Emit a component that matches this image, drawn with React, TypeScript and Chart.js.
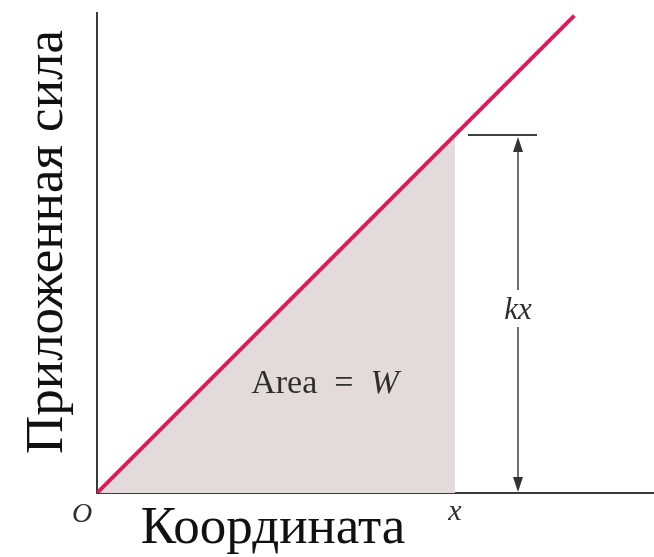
import React, { useEffect, useRef } from "react";
import { Chart, registerables } from "chart.js";

Chart.register(...registerables);

// Spring constant and displacement shown on the diagram
const K = [1];
const X_POINT = [6];
// Force line F = kx, drawn from the origin to its end point
const LINE_X = [0, 8];
// Shaded work triangle spans 0..x
const AREA_X = [0, X_POINT[0]];
// Axis extents
const X_MAX = [9.335];
const Y_MAX = [8.045];

const AXIS_COLOR = "#3a3a3a";
const LINE_COLOR = "#e01b5d";
const FILL_COLOR = "#e3dadb";
const TEXT_COLOR = "#2e2e2e";
const SERIF = '"Liberation Serif", "DejaVu Serif", serif';

const annotations = {
  id: "annotations",
  afterDraw(chart: any) {
    const { ctx, scales } = chart;
    const xs = scales.x;
    const ys = scales.y;
    const x0 = xs.getPixelForValue(0);
    const y0 = ys.getPixelForValue(0);
    const xp = xs.getPixelForValue(X_POINT[0]);
    const yp = ys.getPixelForValue(K[0] * X_POINT[0]);

    ctx.save();
    ctx.fillStyle = TEXT_COLOR;
    ctx.strokeStyle = "#404040";

    // dimension line for kx
    const ax = xp + 63;
    ctx.lineWidth = 2;
    ctx.beginPath();
    ctx.moveTo(xp + 13, yp);
    ctx.lineTo(xp + 82, yp);
    ctx.stroke();
    ctx.lineWidth = 1.5;
    ctx.beginPath();
    ctx.moveTo(ax, yp + 14);
    ctx.lineTo(ax, 290);
    ctx.moveTo(ax, 327);
    ctx.lineTo(ax, y0 - 14);
    ctx.stroke();
    // arrow heads
    ctx.fillStyle = "#333";
    ctx.beginPath();
    ctx.moveTo(ax, yp + 2);
    ctx.lineTo(ax - 5, yp + 17);
    ctx.lineTo(ax + 5, yp + 17);
    ctx.closePath();
    ctx.fill();
    ctx.beginPath();
    ctx.moveTo(ax, y0 - 1);
    ctx.lineTo(ax - 5, y0 - 16);
    ctx.lineTo(ax + 5, y0 - 16);
    ctx.closePath();
    ctx.fill();

    ctx.fillStyle = TEXT_COLOR;
    // kx label
    ctx.font = `italic 31px ${SERIF}`;
    ctx.textAlign = "center";
    ctx.textBaseline = "alphabetic";
    ctx.fillText("kx", ax, 319);

    // Area = W
    ctx.font = `34px ${SERIF}`;
    ctx.textAlign = "left";
    const part = "Area  =  ";
    const w1 = ctx.measureText(part).width;
    ctx.font = `italic 34px ${SERIF}`;
    const w2 = ctx.measureText("W").width;
    const startX = 325 - (w1 + w2) / 2;
    ctx.font = `34px ${SERIF}`;
    ctx.fillText(part, startX, 393);
    ctx.font = `italic 34px ${SERIF}`;
    ctx.fillText("W", startX + w1, 393);

    // origin and x markers
    ctx.font = `italic 28px ${SERIF}`;
    ctx.textAlign = "center";
    ctx.fillText("O", x0 - 15, 522);
    ctx.font = `italic 30px ${SERIF}`;
    ctx.fillText("x", xp, 520);

    // axis titles
    ctx.font = `53px ${SERIF}`;
    ctx.fillStyle = "#111";
    ctx.fillText("Координата", 273, 543);
    ctx.translate(62, 242);
    ctx.rotate(-Math.PI / 2);
    ctx.fillText("Приложенная сила", 0, 0);
    ctx.restore();
  },
};

export default function App() {
  const ref = useRef<HTMLCanvasElement>(null);

  useEffect(() => {
    if (!ref.current) return;
    const chart = new Chart(ref.current, {
      type: "line",
      data: {
        datasets: [
          {
            label: "F = kx",
            data: LINE_X.map((v) => ({ x: v, y: K[0] * v })),
            borderColor: LINE_COLOR,
            borderWidth: 4,
            pointRadius: 0,
            fill: false,
            order: 0,
          },
          {
            label: "W",
            data: AREA_X.map((v) => ({ x: v, y: K[0] * v })),
            borderWidth: 0,
            borderColor: "rgba(0,0,0,0)",
            backgroundColor: FILL_COLOR,
            pointRadius: 0,
            fill: "origin",
            order: 1,
          },
        ],
      },
      options: {
        responsive: false,
        animation: false,
        events: [],
        layout: { padding: { left: 97, top: 13, right: 0, bottom: 64 } },
        plugins: {
          legend: { display: false },
          tooltip: { enabled: false },
        },
        scales: {
          x: {
            type: "linear",
            min: 0,
            max: X_MAX[0],
            z: 1,
            ticks: { display: false },
            grid: { display: false, drawTicks: false },
            border: { display: true, color: AXIS_COLOR, width: 2 },
          },
          y: {
            type: "linear",
            min: 0,
            max: Y_MAX[0],
            z: 1,
            ticks: { display: false },
            grid: { display: false, drawTicks: false },
            border: { display: true, color: AXIS_COLOR, width: 2 },
          },
        },
      },
      plugins: [annotations],
    });
    return () => chart.destroy();
  }, []);

  return (
    <div style={{ position: "fixed", left: 0, top: 0, width: 654, height: 557, background: "#fff" }}>
      <canvas ref={ref} width={654} height={557} />
    </div>
  );
}
